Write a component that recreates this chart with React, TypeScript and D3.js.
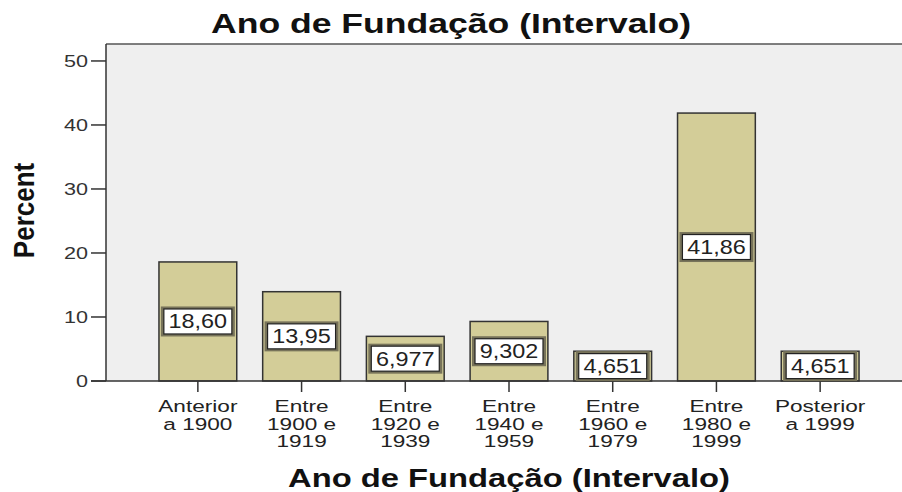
import React from 'react';
import * as d3 from 'd3';

// data
const categories: string[][] = [
  ['Anterior', 'a 1900'],
  ['Entre', '1900 e', '1919'],
  ['Entre', '1920 e', '1939'],
  ['Entre', '1940 e', '1959'],
  ['Entre', '1960 e', '1979'],
  ['Entre', '1980 e', '1999'],
  ['Posterior', 'a 1999'],
];
const percents = [18.6, 13.95, 6.977, 9.302, 4.651, 41.86, 4.651];
const yTicks = [0, 10, 20, 30, 40, 50];
const chartTitle = 'Ano de Fundação (Intervalo)';
const yTitle = 'Percent';

const W = 902;
const H = 492;
const plot = { left: 106, top: 44, right: 902, bottom: 381 };
const FONT = "'Liberation Sans', Arial, sans-serif";

const fmt = (v: number) => d3.format('.4r')(v).replace('.', ',');

const App: React.FC = () => {
  const x = d3.scaleBand<number>()
    .domain(d3.range(percents.length))
    .range([146, 872])
    .paddingInner(0.25)
    .paddingOuter(0.125);
  const y = d3.scaleLinear().domain([0, 52.65]).range([plot.bottom, plot.top]);
  const bw = x.bandwidth();

  return (
    <svg width={W} height={H} style={{ position: 'absolute', left: 0, top: 0, background: '#fff' }}
      fontFamily={FONT}>
      {/* plot area */}
      <rect x={plot.left} y={plot.top} width={plot.right - plot.left} height={plot.bottom - plot.top} fill="#efefef" />
      <line x1={plot.left} x2={plot.right} y1={plot.top} y2={plot.top} stroke="#555" strokeWidth={1.5} />

      {/* bars */}
      {percents.map((v, i) => (
        <rect key={i} x={x(i)!} y={y(v)} width={bw} height={y(0) - y(v)}
          fill="#d3cd98" stroke="#333" strokeWidth={1.5} />
      ))}

      {/* axes */}
      <line x1={plot.left} x2={plot.left} y1={plot.top} y2={plot.bottom} stroke="#333" strokeWidth={1.5} />
      <line x1={91} x2={plot.right} y1={plot.bottom} y2={plot.bottom} stroke="#333" strokeWidth={1.5} />
      {yTicks.map(t => (
        <g key={t}>
          <line x1={91} x2={plot.left} y1={y(t)} y2={y(t)} stroke="#333" strokeWidth={1.5} />
          <g transform={`translate(88,${y(t) + 6}) scale(1.35,1)`}>
            <text textAnchor="end" fontSize={16} fill="#333">{t}</text>
          </g>
        </g>
      ))}
      {categories.map((lines, i) => {
        const cx = x(i)! + bw / 2;
        return (
          <g key={i}>
            <line x1={cx} x2={cx} y1={plot.bottom} y2={plot.bottom + 11} stroke="#333" strokeWidth={1.5} />
            {lines.map((l, j) => (
              <g key={j} transform={`translate(${cx},${412 + j * 17.5}) scale(1.33,1)`}>
                <text textAnchor="middle" fontSize={17} fill="#222">{l}</text>
              </g>
            ))}
          </g>
        );
      })}

      {/* value labels */}
      {percents.map((v, i) => {
        const cx = x(i)! + bw / 2;
        const cy = (y(v) + y(0)) / 2;
        return (
          <g key={i}>
            <rect x={cx - 37} y={cy - 15} width={74} height={30} fill="#77735a" />
            <rect x={cx - 34} y={cy - 12.5} width={68} height={25} fill="#fff" stroke="#222" strokeWidth={1.2} />
            <g transform={`translate(${cx},${cy + 7}) scale(1.2,1)`}>
              <text textAnchor="middle" fontSize={19.5} fill="#222">{fmt(v)}</text>
            </g>
          </g>
        );
      })}

      {/* titles */}
      <g transform={`translate(${W / 2},33) scale(1.27,1)`}>
        <text textAnchor="middle" fontSize={28} fontWeight="bold" fill="#111">{chartTitle}</text>
      </g>
      <g transform={`translate(${(146 + 872) / 2},487) scale(1.31,1)`}>
        <text textAnchor="middle" fontSize={25} fontWeight="bold" fill="#111">{chartTitle}</text>
      </g>
      <g transform={`translate(34,${(plot.top + plot.bottom) / 2 - 2}) scale(1.16,1) rotate(-90)`}>
        <text textAnchor="middle" fontSize={26} fontWeight="bold" fill="#111">{yTitle}</text>
      </g>
    </svg>
  );
};

export default App;
